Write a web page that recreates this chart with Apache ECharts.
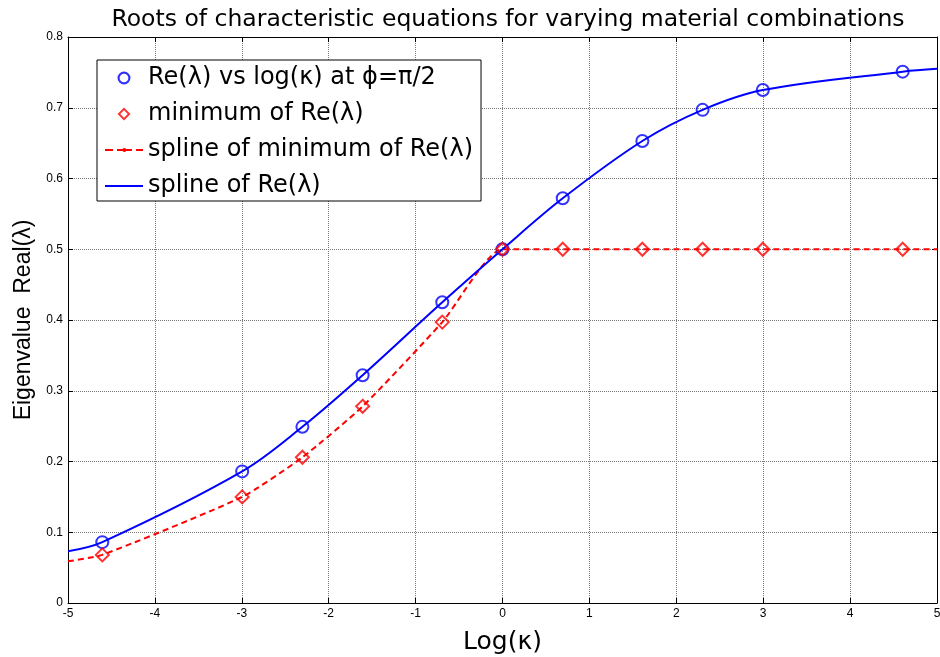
<!DOCTYPE html>
<html>
<head>
<meta charset="utf-8">
<script src="https://cdn.jsdelivr.net/npm/echarts@6/dist/echarts.min.js"></script>
<style>html,body{margin:0;padding:0;background:#fff;}#c{width:940px;height:657px;}</style>
</head>
<body>
<div id="c"></div>
<script>
const logK = [-4.6052, -2.9957, -2.3026, -1.6094, -0.6931, 0, 0.6931, 1.6094, 2.3026, 2.9957, 4.6052];
const reLambda = [0.086, 0.186, 0.249, 0.322, 0.425, 0.5, 0.572, 0.653, 0.697, 0.725, 0.751];
const minRe = [0.068, 0.150, 0.206, 0.278, 0.397, 0.5, 0.5, 0.5, 0.5, 0.5, 0.5];
const splineX = [-5, -4.6052, -2.9957, -2.3026, -1.6094, -0.6931, 0, 0.6931, 1.6094, 2.3026, 2.9957, 4.6052, 5];
const splineRe = [0.073, 0.086, 0.186, 0.249, 0.322, 0.425, 0.5, 0.572, 0.653, 0.697, 0.725, 0.751, 0.755];
const splineMin = [0.059, 0.068, 0.150, 0.206, 0.278, 0.397, 0.5, 0.5, 0.5, 0.5, 0.5, 0.5, 0.5];
const xTicks = ['-5','-4','-3','-2','-1','0','1','2','3','4','5'];
const yTicks = ['0','0.1','0.2','0.3','0.4','0.5','0.6','0.7','0.8'];

const names = ['Re(\u03bb) vs log(\u03ba) at \u03d5=\u03c0/2', 'minimum of Re(\u03bb)', 'spline of minimum of Re(\u03bb)', 'spline of Re(\u03bb)'];
const zip = (xs, ys) => xs.map((x, i) => [x, ys[i]]);
const font = 'Liberation Sans, Arial, sans-serif';
const wideFont = 'DejaVu Sans, sans-serif';

// legend icon shapes
const ringCircle = 'path://M0,6A6,6 0 1,1 12,6A6,6 0 1,1 0,6Z M2,6A4,4 0 1,0 10,6A4,4 0 1,0 2,6Z';
const ringDiamond = 'path://M6,0L12,6L6,12L0,6Z M6,2.6L2.6,6L6,9.4L9.4,6Z';
const dashIcon = 'path://M0,0h0.01v12h-0.01z M0,5h8v2h-8z M12,5h6v2h-6z M21,5h6v2h-6z M31,5h7v2h-7z M17.4,6A2,2 0 1,1 21.4,6A2,2 0 1,1 17.4,6Z M38,0h0.01v12h-0.01z';
const solidIcon = 'path://M0,0h0.01v12h-0.01z M0,5h38v2h-38z M38,0h0.01v12h-0.01z';

const chart = echarts.init(document.getElementById('c'), null, {renderer: 'canvas'});
const baseAxis = {
  axisLine: {show: true, onZero: false, lineStyle: {color: '#000', width: 1}},
  axisTick: {show: true, inside: true, length: 5, lineStyle: {color: '#000'}},
};
chart.setOption({
  animation: false,
  backgroundColor: '#fff',
  title: {
    text: 'Roots of characteristic equations for varying material combinations',
    left: 503, top: 3, textAlign: 'center',
    textStyle: {fontFamily: wideFont, fontSize: 23.5, fontWeight: 'normal', color: '#000'}
  },
  grid: {left: 68, right: 3, top: 37, bottom: 54, outerBoundsMode: 'none', containLabel: false},
  legend: {
    orient: 'vertical', left: 97, top: 60,
    backgroundColor: '#fff', borderColor: '#000', borderWidth: 1, borderRadius: 0,
    padding: [6, 8, 3, 8],
    itemWidth: 38, itemHeight: 13, itemGap: 12, symbolKeepAspect: true,
    textStyle: {fontFamily: wideFont, fontSize: 24, color: '#000'},
    data: [
      {name: names[0], icon: ringCircle, itemStyle: {color: '#0000ff', borderWidth: 0}},
      {name: names[1], icon: ringDiamond, itemStyle: {color: '#ff0000', borderWidth: 0}},
      {name: names[2], icon: dashIcon, itemStyle: {color: '#ff0000', borderWidth: 0}},
      {name: names[3], icon: solidIcon, itemStyle: {color: '#0000ff', borderWidth: 0}}
    ]
  },
  xAxis: [
    Object.assign({}, baseAxis, {
      type: 'value', min: -5, max: 5, interval: 1, position: 'bottom',
      name: 'Log(\u03ba)', nameLocation: 'middle', nameGap: 27,
      nameTextStyle: {fontFamily: wideFont, fontSize: 25, color: '#000'},
      axisLabel: {fontFamily: font, fontSize: 12, color: '#000', margin: 5,
        formatter: v => xTicks[Math.round(v) + 5]},
      splitLine: {show: true, lineStyle: {color: '#777', type: [1, 1], width: 1}}
    }),
    Object.assign({}, baseAxis, {
      type: 'value', min: -5, max: 5, interval: 1, position: 'top',
      axisLabel: {show: false}, splitLine: {show: false}
    })
  ],
  yAxis: [
    Object.assign({}, baseAxis, {
      type: 'value', min: 0, max: 0.8, interval: 0.1, position: 'left',
      name: 'Eigenvalue  Real(\u03bb)', nameLocation: 'middle', nameGap: 30,
      nameTextStyle: {fontFamily: font, fontSize: 23, color: '#000'},
      axisLabel: {fontFamily: font, fontSize: 12, color: '#000', margin: 5,
        formatter: v => yTicks[Math.round(v * 10)]},
      splitLine: {show: true, lineStyle: {color: '#777', type: [1, 1], width: 1}}
    }),
    Object.assign({}, baseAxis, {
      type: 'value', min: 0, max: 0.8, interval: 0.1, position: 'right',
      axisLabel: {show: false}, splitLine: {show: false}
    })
  ],
  series: [
    {
      name: names[0], type: 'scatter', symbol: 'circle', symbolSize: 12,
      itemStyle: {color: 'rgba(0,0,0,0)', borderColor: '#0000ff', borderWidth: 2},
      data: zip(logK, reLambda), z: 5
    },
    {
      name: names[1], type: 'scatter', symbol: 'diamond', symbolSize: 13,
      itemStyle: {color: 'rgba(0,0,0,0)', borderColor: '#ff0000', borderWidth: 2},
      data: zip(logK, minRe), z: 5
    },
    {
      name: names[2], type: 'line', smooth: 0.2, showSymbol: false, symbol: 'none',
      lineStyle: {color: '#ff0000', width: 2, type: [6, 4]},
      itemStyle: {color: '#ff0000'},
      data: zip(splineX, splineMin), z: 3
    },
    {
      name: names[3], type: 'line', smooth: 0.35, showSymbol: false, symbol: 'none',
      lineStyle: {color: '#0000ff', width: 2},
      itemStyle: {color: '#0000ff'},
      data: zip(splineX, splineRe), z: 4
    }
  ]
});
</script>
</body>
</html>
